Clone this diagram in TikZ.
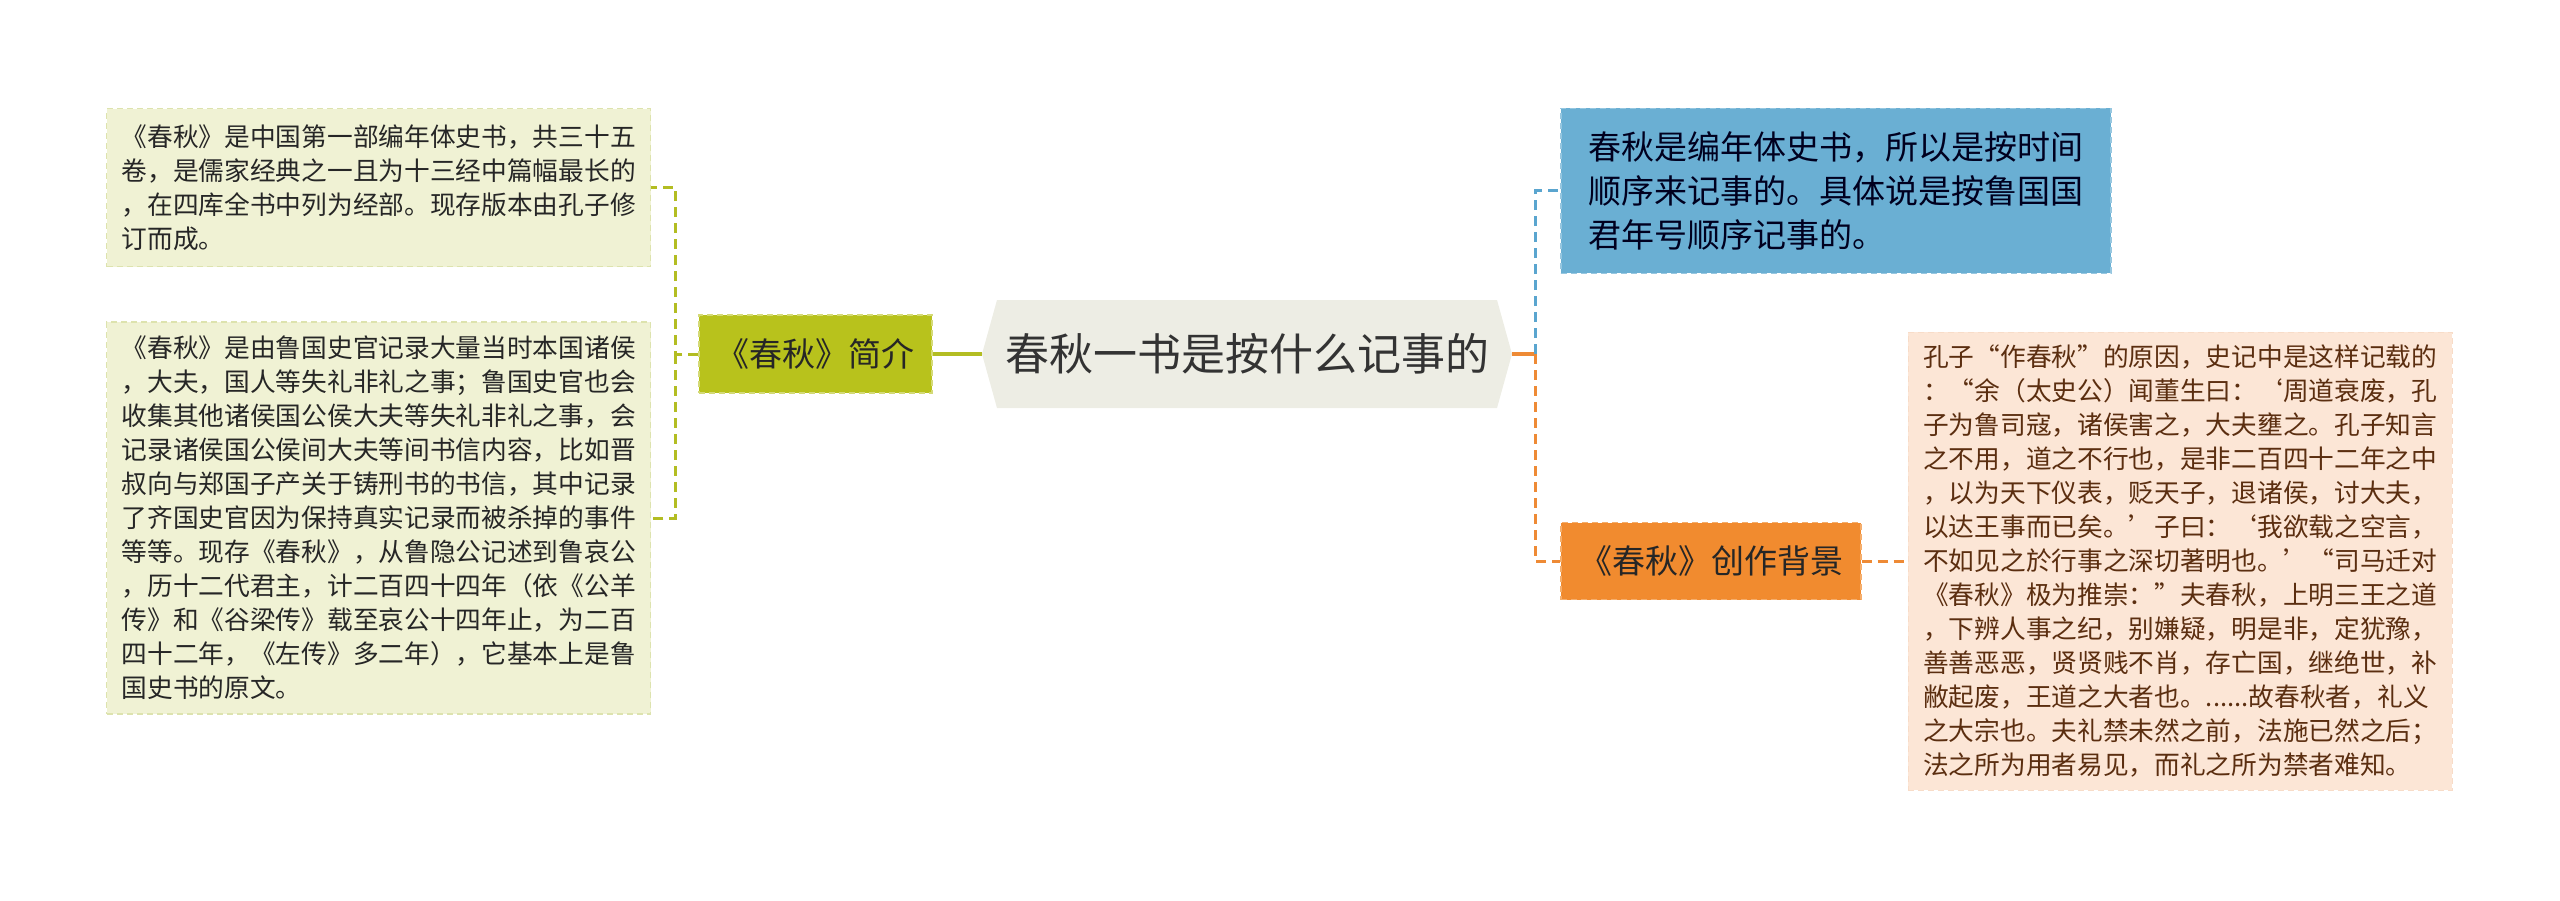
\documentclass[tikz,border=0pt]{standalone}
\usepackage{fontspec}
\setmainfont{Noto Sans CJK SC}
\usepackage{tikz}
\usetikzlibrary{positioning,shapes.symbols}
\definecolor{noteFill}{HTML}{F0F2D4}
\definecolor{noteLine}{HTML}{DDE3AE}
\definecolor{olive}{HTML}{B8C21C}
\definecolor{oliveLine}{HTML}{B3BD22}
\definecolor{titleFill}{HTML}{EDEDE4}
\definecolor{skyFill}{HTML}{6AAFD3}
\definecolor{skyLine}{HTML}{5AA5CF}
\definecolor{orangeFill}{HTML}{F18B2F}
\definecolor{orangeLine}{HTML}{EE8A35}
\definecolor{peachFill}{HTML}{FCE6D6}
\definecolor{peachLine}{HTML}{F8DCC8}
\definecolor{brownText}{HTML}{5B2E10}
\tikzset{note/.style={draw=noteLine,dash pattern=on 3pt off 2pt,line width=0.6pt,fill=noteFill,
    text=black!85,align=left,inner xsep=7.5pt,minimum width=272pt,
    font=\fontsize{12.85pt}{17pt}\selectfont}}
\tikzset{topic/.style={dash pattern=on 3pt off 2pt,line width=0.6pt,text=black!85,
    font=\fontsize{16.5pt}{22pt}\selectfont}}
\tikzset{trunk/.style={line width=1.8pt}}
\tikzset{branch/.style={line width=1.5pt,dash pattern=on 5pt off 3pt}}

\begin{document}
\begin{tikzpicture}[x=0.5pt,y=-0.5pt]
      \useasboundingbox (0,0) rectangle (2560,900);
      \node[shape=signal,signal to=west and east,signal pointer angle=149,fill=titleFill,
        minimum width=265pt,minimum height=54pt,text=black!80,
        font=\fontsize{22pt}{26pt}\selectfont](title) at (1247,354){春秋一书是按什么记事的};

      % left side
      \node[topic,draw=olive!60!white,fill=olive,minimum width=116.5pt,minimum height=39pt,
        left=24.5pt of title.west](intro){《春秋》简介};
      \node[note,minimum height=79pt,above left=23.5pt and 23.5pt of intro](introA){%
        《春秋》是中国第一部编年体史书，共三十五\\
        卷，是儒家经典之一且为十三经中篇幅最长的\\
        ，在四库全书中列为经部。现存版本由孔子修\\
        订而成。};
      \node[note,minimum height=196pt,below=27pt of introA](introB){%
        《春秋》是由鲁国史官记录大量当时本国诸侯\\
        ，大夫，国人等失礼非礼之事；鲁国史官也会\\
        收集其他诸侯国公侯大夫等失礼非礼之事，会\\
        记录诸侯国公侯间大夫等间书信内容，比如晋\\
        叔向与郑国子产关于铸刑书的书信，其中记录\\
        了齐国史官因为保持真实记录而被杀掉的事件\\
        等等。现存《春秋》，从鲁隐公记述到鲁哀公\\
        ，历十二代君主，计二百四十四年（依《公羊\\
        传》和《谷梁传》载至哀公十四年止，为二百\\
        四十二年，《左传》多二年），它基本上是鲁\\
        国史书的原文。};

      % right side
      \node[topic,draw=skyFill!70!white,fill=skyFill,text=black!80!blue!60!black,align=left,
        minimum width=275pt,minimum height=82.5pt,
        above right=40pt and 24pt of title.east](basis){%
        春秋是编年体史书，所以是按时间\\
        顺序来记事的。具体说是按鲁国国\\
        君年号顺序记事的。};
      \node[topic,draw=orangeFill!70!white,fill=orangeFill,minimum width=150pt,minimum height=38.5pt,
        below right=84pt and 24pt of title.east](background){《春秋》创作背景};
      \node[note,draw=peachLine,fill=peachFill,text=brownText,minimum height=229pt,
        right=23pt of background](bgText){%
        孔子“作春秋”的原因，史记中是这样记载的\\
        ：“余（太史公）闻董生曰：‘周道衰废，孔\\
        子为鲁司寇，诸侯害之，大夫壅之。孔子知言\\
        之不用，道之不行也，是非二百四十二年之中\\
        ，以为天下仪表，贬天子，退诸侯，讨大夫，\\
        以达王事而已矣。’子曰：‘我欲载之空言，\\
        不如见之於行事之深切著明也。’“司马迁对\\
        《春秋》极为推崇：”夫春秋，上明三王之道\\
        ，下辨人事之纪，别嫌疑，明是非，定犹豫，\\
        善善恶恶，贤贤贱不肖，存亡国，继绝世，补\\
        敝起废，王道之大者也。......故春秋者，礼义\\
        之大宗也。夫礼禁未然之前，法施已然之后；\\
        法之所为用者易见，而礼之所为禁者难知。};

      \coordinate[left=11.5pt of intro.west](lbus);
      \coordinate[right=11.5pt of title.east](rbus);
      \draw[trunk,oliveLine] (title.west) -- (intro.east);
      \draw[branch,oliveLine] (intro.west) -- (lbus) |- (introA.east);
      \draw[branch,oliveLine] (lbus) |- (introB.east);
      \draw[trunk,orangeLine] (title.east) -- (rbus);
      \draw[branch,skyLine] (rbus) |- (basis.west);
      \draw[branch,orangeLine] (rbus) |- (background.west);
      \draw[branch,orangeLine] (background.east) -- (bgText.west);
    \end{tikzpicture}
\end{document}
